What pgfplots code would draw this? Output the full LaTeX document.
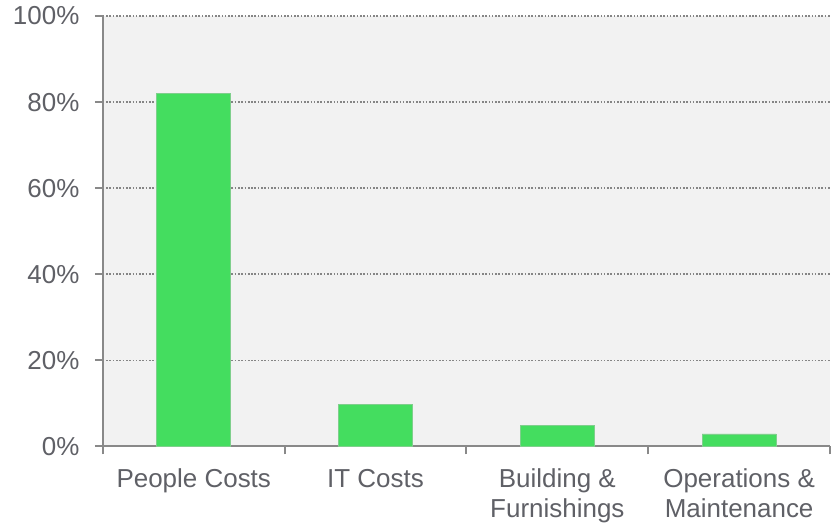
\documentclass[border=0pt]{standalone}
\usepackage{fontspec}
\setmainfont{Liberation Sans}
\usepackage{pgfplots}
\pgfplotsset{compat=1.18}
\definecolor{bargreen}{HTML}{44DD5F}
\definecolor{baredge}{HTML}{7FCF8C}
\definecolor{bgray}{HTML}{F2F2F2}
\definecolor{axgray}{HTML}{898989}
\definecolor{txtgray}{HTML}{5F6066}
\definecolor{gridgray}{HTML}{858585}
\begin{document}
\begin{tikzpicture}
\begin{axis}[
  at={(0pt,0pt)}, anchor=south west,
  scale only axis, width=728pt, height=431pt,
  xmin=-0.5, xmax=3.5, ymin=0, ymax=100,
  axis x line*=bottom, axis y line*=left,
  axis line style={axgray, line width=2pt},
  axis background/.style={fill=bgray},
  ytick={0,20,...,100},
  yticklabels={0\%,20\%,40\%,60\%,80\%,100\%},
  ymajorgrids,
  grid style={gridgray, line width=1.6pt, dash pattern=on 1.6pt off 1.7pt},
  xtick={0,1,2,3},
  xticklabels={People Costs, IT Costs, Building \&\\Furnishings, Operations \&\\Maintenance},
  major x tick style={draw=none},
  minor xtick={-0.5,0.5,1.5,2.5,3.5},
  tick align=outside,
  major tick length=8pt, minor tick length=8pt,
  every tick/.style={axgray, line width=2pt},
  ticklabel style={font=\fontsize{26}{30}\selectfont, text=txtgray},
  xticklabel style={align=center, yshift=-11pt},
  yticklabel style={xshift=-12pt},
  clip=false,
]
\addplot[ybar, bar width=74pt, fill=bargreen, draw=baredge, line width=0.8pt]
  coordinates {(0,82.0) (1,9.8) (2,4.8) (3,2.9)};
\end{axis}
\useasboundingbox (-103pt,-77pt) rectangle (728pt,447pt);
\end{tikzpicture}
\end{document}
